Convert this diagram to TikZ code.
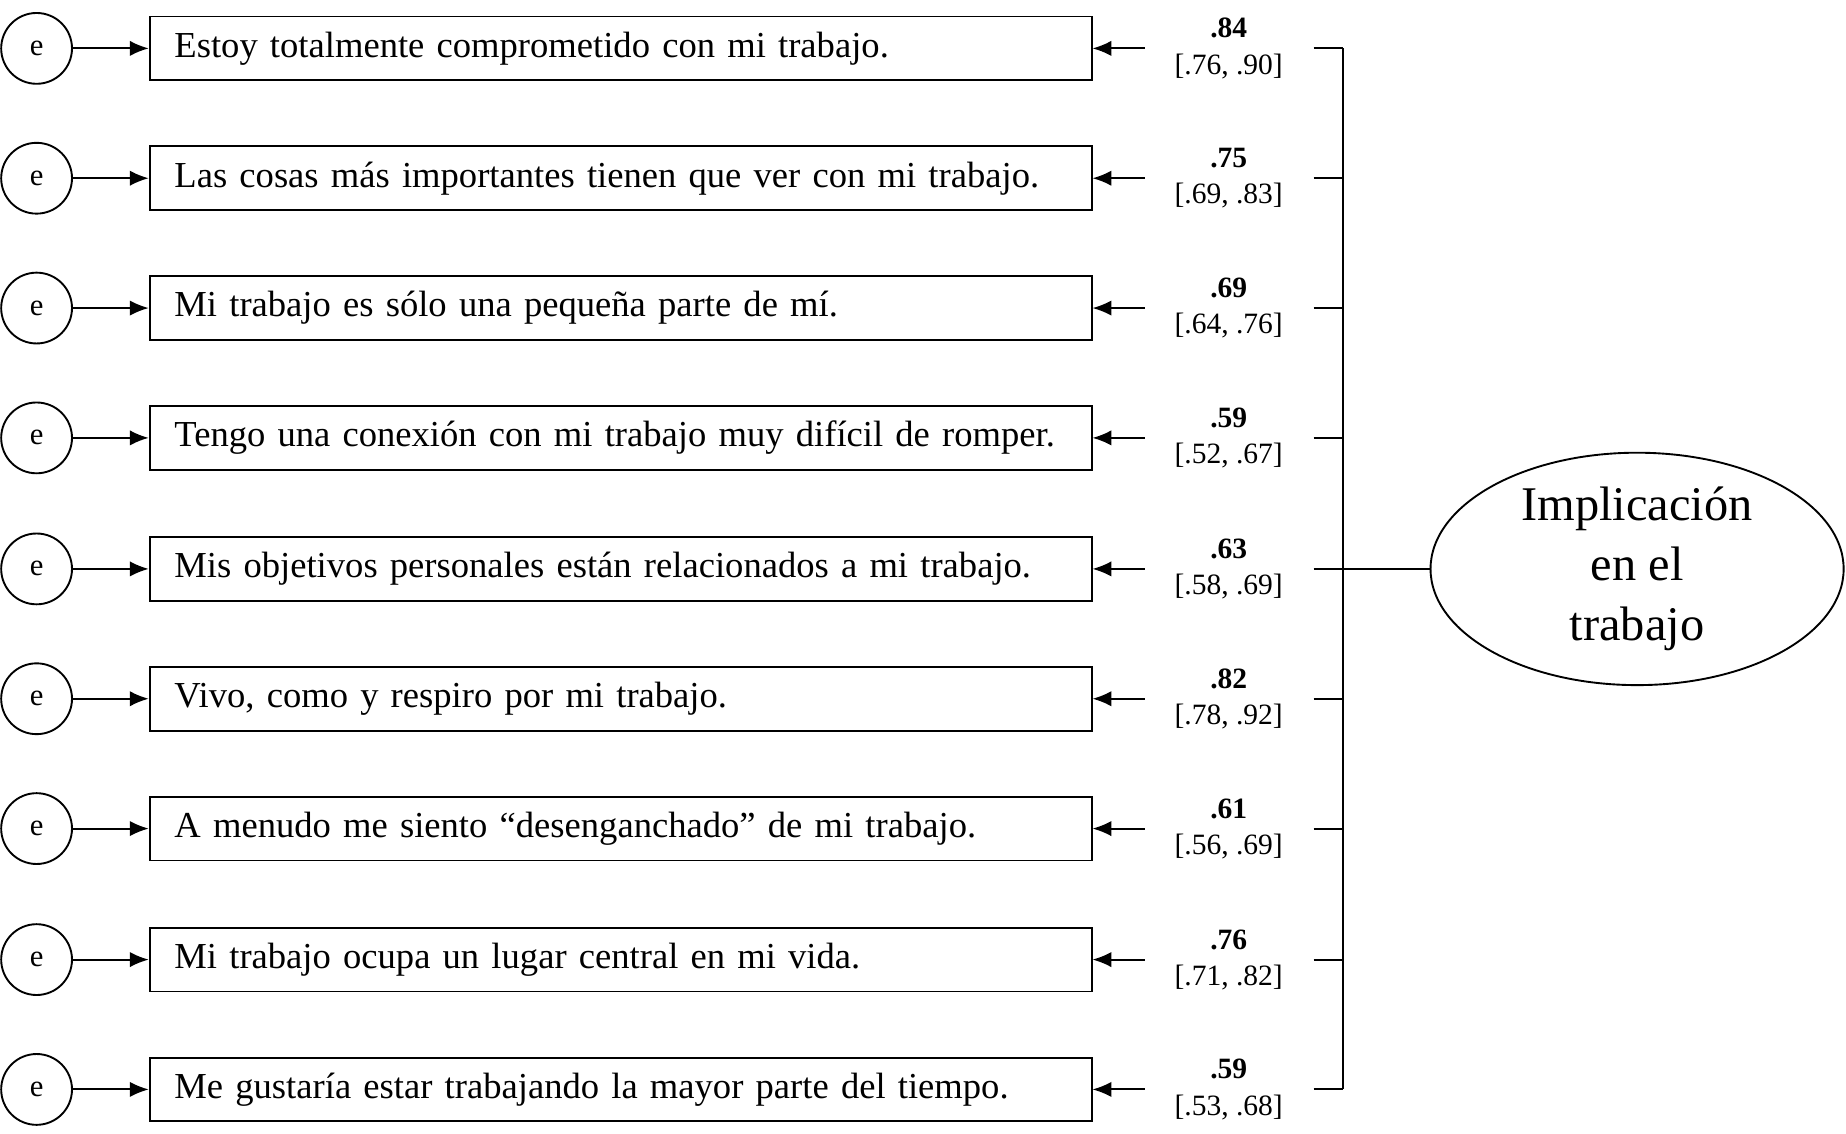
\documentclass[tikz,border=0pt]{standalone}
\usepackage{fontspec}
\setmainfont{Liberation Serif}
\usetikzlibrary{shapes.geometric,arrows.meta}
\begin{document}
\begin{tikzpicture}[x=1pt,y=-1pt,
  err/.style={draw,circle,line width=1.6pt,minimum size=60pt,inner sep=0pt,font=\fontsize{26}{30}\selectfont},
  item/.style={draw,line width=1.6pt,minimum width=798pt,minimum height=54pt,inner xsep=21pt,inner ysep=0pt,anchor=west,text width=756pt,align=left,font=\fontsize{31}{34}\selectfont},
  lbl/.style={font=\fontsize{25}{28}\selectfont,inner sep=0pt},
  arr/.style={line width=1.6pt,-{Latex[length=16pt,width=13pt]}},
  ln/.style={line width=1.6pt}]
\useasboundingbox (0,0) rectangle (1564,960);
\def\rows{1/41/{Estoy totalmente comprometido con mi trabajo.}/.84/{[.76, .90]},
2/151/{Las cosas más importantes tienen que ver con mi trabajo.}/.75/{[.69, .83]},
3/261/{Mi trabajo es sólo una pequeña parte de mí.}/.69/{[.64, .76]},
4/371/{Tengo una conexión con mi trabajo muy difícil de romper.}/.59/{[.52, .67]},
5/482/{Mis objetivos personales están relacionados a mi trabajo.}/.63/{[.58, .69]},
6/592/{Vivo, como y respiro por mi trabajo.}/.82/{[.78, .92]},
7/702/{A menudo me siento “desenganchado” de mi trabajo.}/.61/{[.56, .69]},
8/813/{Mi trabajo ocupa un lugar central en mi vida.}/.76/{[.71, .82]},
9/923/{Me gustaría estar trabajando la mayor parte del tiempo.}/.59/{[.53, .68]}}
\node[draw,ellipse,line width=1.6pt,minimum width=350pt,minimum height=194pt,inner sep=0pt,align=center,font=\fontsize{41}{51}\selectfont] (F) at (1387,482) {Implicación\\en el\\trabajo};
\coordinate (top) at (1138,41);
\coordinate (bot) at (1138,923);
\draw[ln] (top) -- (bot);
\coordinate (mid) at (1138,482);
\draw[ln] (mid) -- (F.west);
\foreach \i/\y/\t/\v/\c in \rows {
  \node[err] (e\i) at (31,\y) {e};
  \node[item] (b\i) at (126,\y) {\t};
  \coordinate (s\i) at (970,\y);
  \coordinate (k\i) at (1113,\y);
  \coordinate (m\i) at (1138,\y);
  \draw[arr] (e\i) -- (b\i.west);
  \draw[arr] (s\i) -- (b\i.east);
  \draw[ln] (k\i) -- (m\i);
  \node[lbl,font=\fontsize{25}{28}\selectfont\bfseries] (v\i) at (1041,\y-17) {\v};
  \node[lbl] (c\i) at (1041,\y+15) {\c};
}
\end{tikzpicture}
\end{document}
